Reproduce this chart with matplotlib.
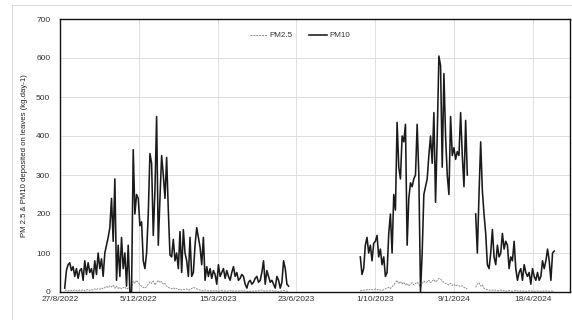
import numpy as np
import pandas as pd
import matplotlib
matplotlib.use("Agg")
import matplotlib.pyplot as plt
from matplotlib.lines import Line2D

plt.rcParams['font.family'] = ['Liberation Sans', 'DejaVu Sans']

nan = np.nan

# first measuring period (one value about every 2 days)
seg1_start, seg1_end = '2022-09-02', '2023-06-13'
pm10_seg1 = [10, 55, 70, 75, 55, 65, 40, 60, 35, 55, 60, 30, 80, 45, 75, 50, 60, 35, 80, 45, 100,
             60, 85, 40, 100, 120, 140, 165, 240, 130, 290, 30, 120, 40, 140, 60, 100, 15, 120, 0, 0,
             365, 200, 250, 240, 170, 180, 80, 60, 100, 200, 355, 330, 145, 260, 450, 120, 240, 350, 300, 240,
             345, 210, 95, 90, 135, 80, 100, 60, 155, 50, 160, 100, 80, 40, 140, 40, 50, 120, 165, 140,
             115, 70, 140, 30, 65, 40, 60, 35, 55, 45, 20, 70, 40, 50, 60, 35, 55, 40, 30, 50,
             65, 40, 50, 30, 35, 45, 40, 20, 10, 25, 30, 20, 25, 35, 40, 25, 30, 50, 80, 20,
             55, 40, 25, 30, 20, 10, 40, 30, 10, 25, 80, 60, 20, 15]
pm25_seg1 = [5, 4, 3, 5, 4, 3, 6, 4, 3, 5, 4, 6, 3, 5, 7, 4, 6, 5, 8, 6, 9,
             7, 10, 8, 12, 14, 11, 16, 13, 17, 10, 15, 9, 12, 8, 11, 13, 7, 10, 6, 9,
             28, 22, 30, 24, 18, 15, 12, 10, 14, 20, 26, 22, 28, 18, 25, 30, 24, 27, 20, 22,
             15, 12, 10, 8, 11, 7, 9, 6, 8, 5, 7, 6, 8, 5, 6, 9, 12, 10, 8, 6,
             5, 4, 3, 5, 4, 3, 4, 2, 3, 4, 3, 2, 3, 4, 2, 3, 2, 3, 4, 2,
             3, 2, 3, 2, 4, 3, 2, 3, 2, 1, 2, 3, 2, 3, 2, 3, 4, 5, 3, 2,
             3, 2, 3, 4, 2, 3, 2, 1, 2, 3, 4, 3, 2, 2]

# second measuring period
seg2_start, seg2_end = '2023-09-12', '2024-05-15'
pm10_seg2 = [90, 45, 60, 120, 140, 100, 120, 80, 125, 130, 145, 90, 110, 70, 90, 40, 50, 150, 200, 100,
             250, 210, 435, 320, 290, 400, 385, 430, 120, 240, 280, 270, 290, 300, 430, 300, 0, 100, 250, 270,
             290, 350, 400, 330, 460, 230, 400, 605, 580, 320, 560, 400, 300, 250, 450, 350, 370, 340, 360, 350,
             460, 350, 270, 440, 300, nan, nan, nan, nan, 200, 100, 250, 385, 260, 200, 150, 70, 60, 100, 160,
             90, 70, 120, 90, 100, 150, 110, 130, 120, 60, 90, 80, 130, 60, 30, 50, 60, 30, 70, 50,
             40, 50, 20, 60, 40, 30, 50, 30, 40, 80, 60, 80, 110, 80, 30, 100, 105]
pm25_seg2 = [3, 4, 5, 4, 6, 5, 7, 6, 5, 8, 6, 7, 5, 4, 6, 8, 10, 12, 9, 14,
             18, 24, 30, 22, 27, 20, 25, 18, 22, 15, 20, 24, 18, 22, 25, 20, 10, 22, 28, 24,
             26, 30, 24, 28, 32, 26, 30, 35, 33, 28, 25, 22, 20, 18, 22, 17, 20, 15, 18, 16,
             14, 16, 12, 10, 8, nan, nan, nan, nan, 12, 20, 24, 15, 18, 10, 7, 6, 5, 4, 5,
             4, 5, 3, 4, 5, 3, 4, 2, 3, 4, 3, 2, 3, 4, 3, 2, 3, 2, 3, 2,
             2, 3, 2, 3, 2, 2, 3, 2, 2, 3, 2, 3, 2, 2, 3, 2, 2]

tick_dates = ['2022-08-27', '2022-12-05', '2023-03-15', '2023-06-23', '2023-10-01', '2024-01-09', '2024-04-18']
tick_labels = ['27/8/2022', '5/12/2022', '15/3/2023', '23/6/2023', '1/10/2023', '9/1/2024', '18/4/2024']
x_min, x_max = '2022-08-27', '2024-06-04'

d1 = pd.date_range(seg1_start, seg1_end, periods=len(pm10_seg1))
d2 = pd.date_range(seg2_start, seg2_end, periods=len(pm10_seg2))
# gap between the two periods
dates = list(d1) + [d1[-1] + (d2[0] - d1[-1]) / 2] + list(d2)
pm10 = pm10_seg1 + [nan] + pm10_seg2
pm25 = pm25_seg1 + [nan] + pm25_seg2

fig = plt.figure(figsize=(5.72, 3.2), dpi=100)
ax = fig.add_axes([60 / 572, 28 / 320, 510 / 572, 273 / 320])

ax.plot(dates, pm25, color='#8c8c8c', lw=0.7, ls=(0, (2, 1)), label='PM2.5')
ax.plot(dates, pm10, color='#1a1a1a', lw=1.15, label='PM10')

ax.set_xlim(pd.Timestamp(x_min), pd.Timestamp(x_max))
ax.set_ylim(0, 700)
ax.set_yticks(range(0, 701, 100))
ax.set_xticks([pd.Timestamp(d) for d in tick_dates])
ax.set_xticklabels(tick_labels)
ax.tick_params(axis='x', length=0, pad=3, labelsize=6, labelcolor='#333333')
ax.tick_params(axis='y', length=0, pad=7, labelsize=6, labelcolor='#333333')
ax.grid(True, color='#dedede', lw=0.7)
ax.set_axisbelow(True)
for s in ax.spines.values():
    s.set_color('#111111')
    s.set_linewidth(1.0)

ax.set_ylabel('PM 2.5 & PM10 deposited on leaves (kg.day-1)', fontsize=5.6, color='#222222', labelpad=6)

ax.legend(loc='upper center', bbox_to_anchor=(0.47, 0.98), ncol=2, frameon=False, fontsize=5.8,
          handlelength=2.2, columnspacing=2.0, handletextpad=0.3, labelcolor='#333333')

# light border of the chart area
fig.add_artist(Line2D([12 / 572, 1], [1 - 5 / 320, 1 - 5 / 320], color='#dcdcdc', lw=0.8))
fig.add_artist(Line2D([12 / 572, 12 / 572], [0, 1 - 5 / 320], color='#dcdcdc', lw=0.8))

fig.savefig('out.png', dpi=100)
